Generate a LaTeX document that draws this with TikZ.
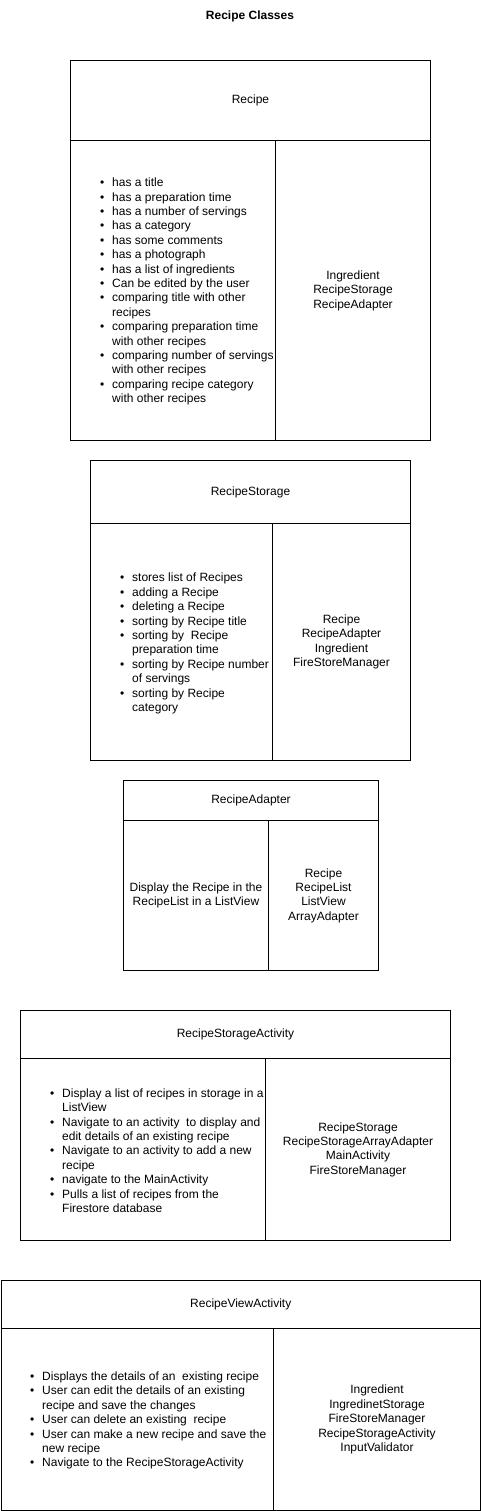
\documentclass[tikz,border=0pt]{standalone}
\usepackage{fontspec}
\setmainfont{Liberation Sans}
\newcommand\fsz{\fontsize{12pt}{14.4pt}\selectfont}
\newcommand\itm[1]{\makebox[12pt][l]{\textbullet}#1}
\newcommand\cnt[1]{\hspace*{12pt}#1}
\tikzset{
  box/.style={draw=black, line width=1pt, inner sep=0pt, anchor=north west, font=\fsz, align=center},
  blist/.style={inner sep=0pt, anchor=west, font=\fsz, align=left},
}
\begin{document}
\begin{tikzpicture}[x=1pt, y=-1pt]
\useasboundingbox (0,0) rectangle (481,1511);

\node[font=\fsz\bfseries] (title) at (250,16) {Recipe Classes};

% Recipe
\node[box, minimum width=360pt, minimum height=80pt] (recipeH) at (70,60) {Recipe};
\node[box, minimum width=205pt, minimum height=300pt] (recipeL) at (70,140) {};
\node[box, minimum width=155pt, minimum height=300pt] (recipeR) at (275,140) {Ingredient\\RecipeStorage\\RecipeAdapter};
\node[blist] (recipeList) at (100,291.5) {%
\itm{has a title}\\
\itm{has a preparation time}\\
\itm{has a number of servings}\\
\itm{has a category}\\
\itm{has some comments}\\
\itm{has a photograph}\\
\itm{has a list of ingredients}\\
\itm{Can be edited by the user}\\
\itm{comparing title with other}\\
\cnt{recipes}\\
\itm{comparing preparation time}\\
\cnt{with other recipes}\\
\itm{comparing number of servings}\\
\cnt{with other recipes}\\
\itm{comparing recipe category}\\
\cnt{with other recipes}};

% RecipeStorage
\node[box, minimum width=320pt, minimum height=63pt] (storH) at (90,460) {RecipeStorage};
\node[box, minimum width=182pt, minimum height=237pt] (storL) at (90,523) {};
\node[box, minimum width=138pt, minimum height=237pt] (storR) at (272,523) {Recipe\\RecipeAdapter\\Ingredient\\FireStoreManager};
\node[blist] (storList) at (120,643.5) {%
\itm{stores list of Recipes}\\
\itm{adding a Recipe}\\
\itm{deleting a Recipe}\\
\itm{sorting by Recipe title}\\
\itm{sorting by~ Recipe}\\
\cnt{preparation time}\\
\itm{sorting by Recipe number}\\
\cnt{of servings}\\
\itm{sorting by Recipe}\\
\cnt{category}};

% RecipeAdapter
\node[box, minimum width=255pt, minimum height=40pt] (adH) at (123,780) {RecipeAdapter};
\node[box, minimum width=145pt, minimum height=150pt] (adL) at (123,820) {Display the Recipe in the\\RecipeList in a ListView};
\node[box, minimum width=110pt, minimum height=150pt] (adR) at (268,820) {Recipe\\RecipeList\\ListView\\ArrayAdapter};

% RecipeStorageActivity
\node[box, minimum width=430pt, minimum height=48pt] (rsaH) at (20,1010) {RecipeStorageActivity};
\node[box, minimum width=245pt, minimum height=182pt] (rsaL) at (20,1058) {};
\node[box, minimum width=185pt, minimum height=182pt] (rsaR) at (265,1058) {RecipeStorage\\RecipeStorageArrayAdapter\\MainActivity\\FireStoreManager};
\node[blist] (rsaList) at (50,1150.5) {%
\itm{Display a list of recipes in storage in a}\\
\cnt{ListView}\\
\itm{Navigate to an activity~ to display and}\\
\cnt{edit details of an existing recipe}\\
\itm{Navigate to an activity to add a new}\\
\cnt{recipe}\\
\itm{navigate to the MainActivity}\\
\itm{Pulls a list of recipes from the}\\
\cnt{Firestore database}};

% RecipeViewActivity
\node[box, minimum width=479.5pt, minimum height=48pt] (rvaH) at (0.5,1280) {RecipeViewActivity};
\node[box, minimum width=272.5pt, minimum height=182pt] (rvaL) at (0.5,1328) {};
\node[box, minimum width=207pt, minimum height=182pt] (rvaR) at (273,1328) {Ingredient\\IngredinetStorage\\FireStoreManager\\RecipeStorageActivity\\InputValidator};
\node[blist] (rvaList) at (30,1420.5) {%
\itm{Displays the details of an~ existing recipe}\\
\itm{User can edit the details of an existing}\\
\cnt{recipe and save the changes}\\
\itm{User can delete an existing~ recipe}\\
\itm{User can make a new recipe and save the}\\
\cnt{new recipe}\\
\itm{Navigate to the RecipeStorageActivity}};
\end{tikzpicture}
\end{document}
